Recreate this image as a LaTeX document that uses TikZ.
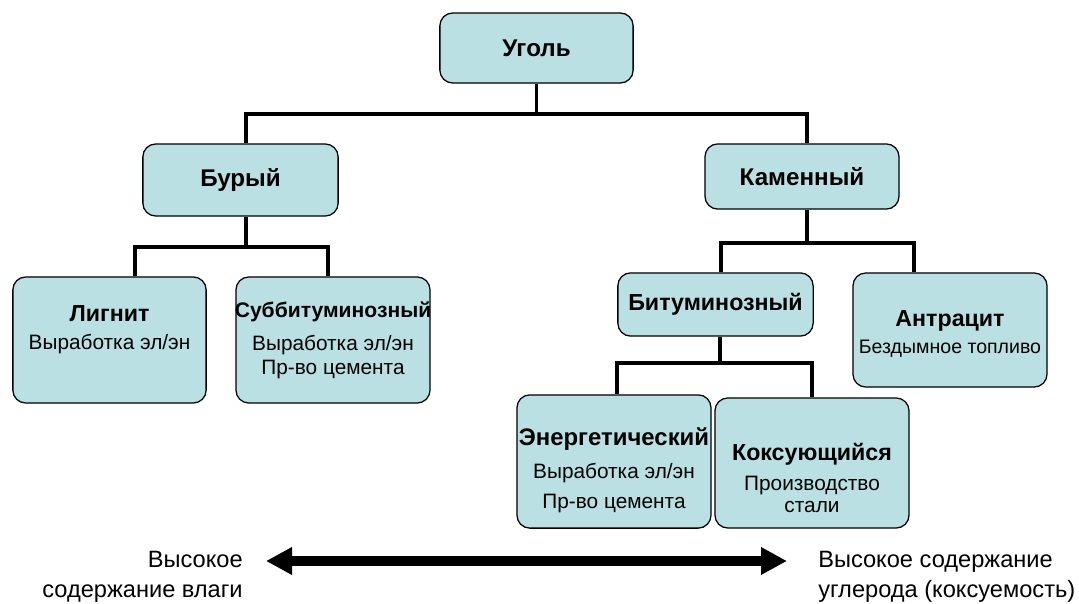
\documentclass[tikz,border=0pt]{standalone}
\usepackage{fontspec}
\setmainfont{Liberation Sans}
\usetikzlibrary{positioning}
\usetikzlibrary{arrows.meta}
\definecolor{coalfill}{RGB}{186,224,227}
\def\mylink{2.8pt}
\newcommand{\kind}[2][16.5]{\makebox[0pt]{\bfseries\fontsize{#1}{20}\selectfont #2}}
\tikzset{
semithick, % thin borders, fat links
my node/.style={align=center,inner sep=1mm},
my box/.style={draw,my node,fill=coalfill,line width=0.9pt,rounded corners=3.2mm},
big box/.style={my box,font=\bfseries\fontsize{17.2}{20}\selectfont},
small box/.style={my box,font=\fontsize{14.8}{18}\selectfont},
grade scale/.style={line width=7pt,
  {Triangle[length=6.5mm,width=6.5mm]}-{Triangle[length=6.5mm,width=6.5mm]}},
link/.style={line width=\mylink},
side text/.style={my node,inner sep=0pt,font=\fontsize{16.8}{21.3}\selectfont}
}

\begin{document}
\begin{tikzpicture}[x=0.025cm,y=-0.025cm]
\useasboundingbox (0,0) rectangle (1079,604);

% top and first level
\node[big box,minimum width=4.83cm,minimum height=1.75cm] (ugol)  at (536.5,48)  {Уголь};
\node[big box,minimum width=4.88cm,minimum height=1.8cm]  (buryi) at (240.5,180) {Бурый};
\node[big box,minimum width=4.85cm,minimum height=1.63cm] (kamen) at (802,176.5) {Каменный};

% second level
\node[small box,minimum width=4.83cm,minimum height=3.15cm] (lignit) at (109.5,340)
  {\kind{Лигнит}\\[2pt]Выработка эл/эн\\ \mbox{}};
\node[small box,minimum width=4.85cm,minimum height=3.15cm] (subbit) at (333,340)
  {\kind[15]{Суббитуминозный}\\[5.5pt]Выработка эл/эн\\[-1pt]Пр-во цемента};
\node[small box,minimum width=4.88cm,minimum height=1.58cm] (bitum)  at (715.5,304.5)
  {\kind{Битуминозный}};
\node[small box,minimum width=4.85cm,minimum height=2.85cm,font=\fontsize{13.9}{16}\selectfont] (antr) at (950,330)
  {\mbox{}\\[1pt]\kind{Антрацит}\\[3pt]Бездымное топливо};

% third level
\node[small box,minimum width=4.85cm,minimum height=3.33cm] (energ) at (614,461.5)
  {\mbox{}\\[7pt]\kind[17]{Энергетический}\\[5.5pt]Выработка эл/эн\\[3pt]Пр-во цемента};
\node[small box,minimum width=4.85cm,minimum height=3.25cm] (koks)  at (812,463)
  {\mbox{}\\[16pt]\kind{Коксующийся}\\[3pt]Производство\\[-2pt]стали};

% links
\draw[link] (ugol) -- (ugol.south |- 0,114);
\draw[link] ([xshift=0.14cm]buryi.north) |- (ugol.south |- 0,114) -| ([xshift=0.13cm]kamen.north);
\draw[link] ([xshift=0.14cm]buryi.south) -- ([xshift=0.14cm]buryi.south |- 0,247);
\draw[link] ([xshift=0.64cm]lignit.north) |- (buryi.south |- 0,247) -| ([xshift=-0.13cm]subbit.north);
\draw[link] ([xshift=0.13cm]kamen.south) -- ([xshift=0.13cm]kamen.south |- 0,243);
\draw[link] ([xshift=0.14cm]bitum.north) |- (kamen.south |- 0,243) -| ([xshift=-0.9cm]antr.north);
\draw[link] ([xshift=0.12cm]bitum.south) -- ([xshift=0.12cm]bitum.south |- 0,363);
\draw[link] ([xshift=0.07cm]energ.north) |- (bitum.south |- 0,363) -| (koks.north);

% scale of coal grades
\coordinate (wet)    at (266,561);
\coordinate (carbon) at (787,561);
\draw[grade scale] (wet) -- (carbon);
\node[side text,align=right,below left=-0.25cm and 0.575cm of wet]   (wet text)    {Высокое\\содержание влаги};
\node[side text,align=left,below right=-0.25cm and 0.775cm of carbon] (carbon text) {Высокое содержание\\углерода (коксуемость)};
\end{tikzpicture}
\end{document}
